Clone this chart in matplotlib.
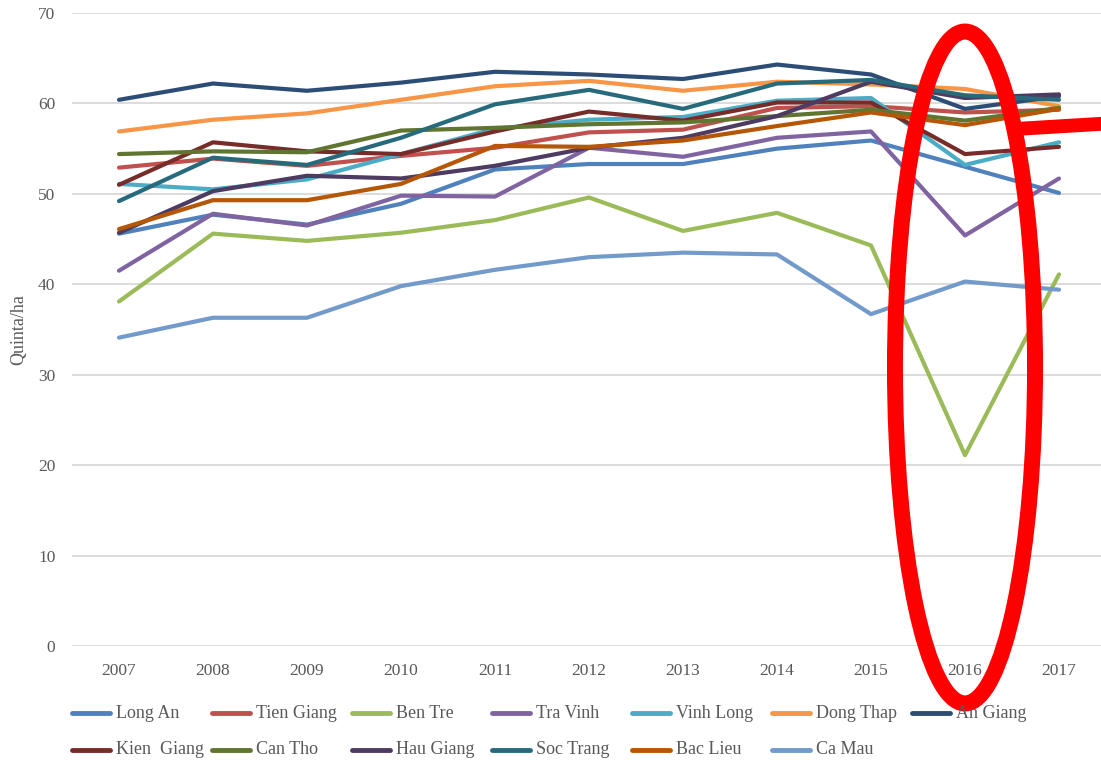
#%%### Imports
import numpy as np
import matplotlib as mpl
import matplotlib.pyplot as plt
from matplotlib.patches import Ellipse
from matplotlib.lines import Line2D

#%%### Data
years = [2007, 2008, 2009, 2010, 2011, 2012, 2013, 2014, 2015, 2016, 2017]

long_an    = [45.6, 47.7, 46.6, 48.9, 52.7, 53.3, 53.3, 55.0, 55.9, 53.0, 50.1]
tien_giang = [52.9, 53.9, 53.1, 54.2, 55.1, 56.8, 57.1, 59.5, 59.7, 59.0, 59.3]
ben_tre    = [38.1, 45.6, 44.8, 45.7, 47.1, 49.6, 45.9, 47.9, 44.3, 21.1, 41.1]
tra_vinh   = [41.5, 47.8, 46.5, 49.8, 49.7, 55.1, 54.1, 56.2, 56.9, 45.4, 51.7]
vinh_long  = [51.1, 50.5, 51.6, 54.4, 57.2, 58.2, 58.5, 60.3, 60.6, 53.2, 55.7]
dong_thap  = [56.9, 58.2, 58.9, 60.4, 61.9, 62.5, 61.4, 62.4, 62.1, 61.6, 59.7]
an_giang   = [60.4, 62.2, 61.4, 62.3, 63.5, 63.2, 62.7, 64.3, 63.2, 59.4, 60.8]
kien_giang = [51.0, 55.7, 54.7, 54.4, 56.9, 59.1, 58.1, 60.1, 60.1, 54.4, 55.2]
can_tho    = [54.4, 54.7, 54.6, 57.0, 57.3, 57.7, 57.9, 58.6, 59.3, 58.1, 59.5]
hau_giang  = [45.7, 50.3, 52.0, 51.7, 53.1, 55.1, 56.2, 58.6, 62.4, 60.6, 61.0]
soc_trang  = [49.2, 54.0, 53.2, 56.2, 59.9, 61.5, 59.4, 62.2, 62.6, 60.9, 60.4]
bac_lieu   = [46.1, 49.3, 49.3, 51.1, 55.3, 55.2, 55.9, 57.5, 59.0, 57.6, 59.4]
ca_mau     = [34.1, 36.3, 36.3, 39.8, 41.6, 43.0, 43.5, 43.3, 36.7, 40.3, 39.4]

labels = ['Long An', 'Tien Giang', 'Ben Tre', 'Tra Vinh', 'Vinh Long', 'Dong Thap',
          'An Giang', 'Kien  Giang', 'Can Tho', 'Hau Giang', 'Soc Trang',
          'Bac Lieu', 'Ca Mau']
series = [long_an, tien_giang, ben_tre, tra_vinh, vinh_long, dong_thap, an_giang,
          kien_giang, can_tho, hau_giang, soc_trang, bac_lieu, ca_mau]
colors = ['#4F81BD', '#C0504D', '#9BBB59', '#8064A2', '#4BACC6', '#F79646', '#2C4D75',
          '#772C2A', '#5F7530', '#4D3B62', '#276A7C', '#B65708', '#729ACA']

yticks = [0, 10, 20, 30, 40, 50, 60, 70]

#%%### Plot
plt.rcParams['font.family'] = ['Liberation Serif', 'DejaVu Serif']
textcolor = '#595959'
W, H = 1101, 760

f = plt.figure(figsize=(W/100, H/100), dpi=100)
ax = f.add_axes([72/W, 1 - 646/H, 1034/W, 633/H])

for vals, color in zip(series, colors):
    ax.plot(years, vals, color=color, lw=3.0, solid_capstyle='round',
            solid_joinstyle='round', zorder=3)

ax.set_xlim(2006.5, 2017.5)
ax.set_ylim(0, 70)
ax.set_yticks(yticks)
ax.set_xticks(years)
ax.set_xticklabels([str(y) for y in years])
ax.grid(axis='y', color='#D9D9D9', lw=1.3, zorder=0)
for s in ax.spines.values():
    s.set_visible(False)
ax.tick_params(length=0, labelsize=12.5, labelcolor=textcolor)
ax.tick_params(axis='x', pad=12)
ax.tick_params(axis='y', pad=12)
ax.set_ylabel('Quinta/ha', fontsize=13, color=textcolor, labelpad=8)

## Legend, laid out by hand in rows like the original
for i, (label, color) in enumerate(zip(labels, colors)):
    row, col = divmod(i, 7)
    x0 = 72 + 140 * col
    y0 = 713 + 37 * row
    f.add_artist(Line2D([x0/W, (x0 + 38)/W], [1 - y0/H, 1 - y0/H],
                        transform=f.transFigure, color=color, lw=3.5,
                        solid_capstyle='round'))
    f.text((x0 + 44)/W, 1 - y0/H, label, fontsize=13, color=textcolor,
           va='center', ha='left')

## Red annotation
ax.add_patch(Ellipse((2016.0, 30.8), 1.49, 74.3, facecolor='none',
                     edgecolor='#FF0000', lw=11.5, clip_on=False, zorder=10))
ax.add_line(Line2D([2016.58, 2017.7], [57.2, 57.9], color='#FF0000', lw=10,
                   solid_capstyle='butt', clip_on=False, zorder=10))

plt.savefig('out.png', dpi=100)
